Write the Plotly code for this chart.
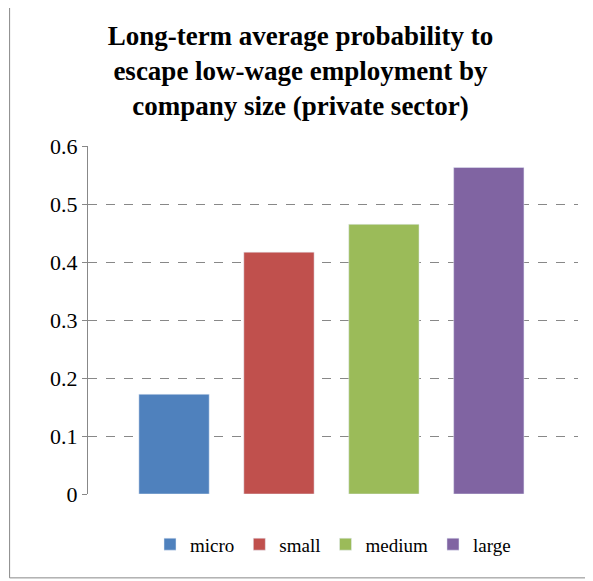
import plotly.graph_objects as go

categories = ["micro", "small", "medium", "large"]
values = [0.172, 0.417, 0.465, 0.563]
colors = ["#4F81BD", "#C0504D", "#9BBB59", "#8064A2"]
tick_vals = [0, 0.1, 0.2, 0.3, 0.4, 0.5, 0.6]
tick_text = ["0", "0.1", "0.2", "0.3", "0.4", "0.5", "0.6"]

fig = go.Figure()
for i, (name, val, col) in enumerate(zip(categories, values, colors)):
    fig.add_trace(go.Bar(x=[i], y=[val], name=name, marker_color=col, width=0.67))

fig.update_layout(
    width=585, height=573,
    margin=dict(l=80, r=15, t=138, b=87, autoexpand=False),
    paper_bgcolor="white", plot_bgcolor="white",
    font=dict(family="Liberation Serif, Times New Roman, serif", color="black"),
    title=dict(
        text="<b>Long-term average probability to<br>escape low-wage employment by<br>company size (private sector)</b>",
        x=0.5, xanchor="center", y=0.935, yanchor="middle", yref="container",
        font=dict(size=27, family="Liberation Serif, serif", color="black"),
    ),
    showlegend=True,
    legend=dict(orientation="h", x=0.5, xanchor="center", y=-0.09, yanchor="top",
                font=dict(size=19)),
    shapes=[dict(type="rect", xref="paper", yref="paper",
                 x0=-0.16, x1=1.02, y0=-0.241, y1=1.4,
                 line=dict(color="#888888", width=1))],
)
fig.update_xaxes(range=[-0.82, 3.85], showticklabels=False, showgrid=False,
                 zeroline=False, showline=False, automargin=False)
fig.update_yaxes(range=[0, 0.6], tickvals=tick_vals, ticktext=tick_text, automargin=False,
                 showgrid=True, gridcolor="#888888", griddash="dash", gridwidth=1,
                 zeroline=False,
                 showline=True, linecolor="#888888", ticks="outside",
                 ticklen=5, tickcolor="#888888", tickfont=dict(size=22))
fig.write_html("out.html")
